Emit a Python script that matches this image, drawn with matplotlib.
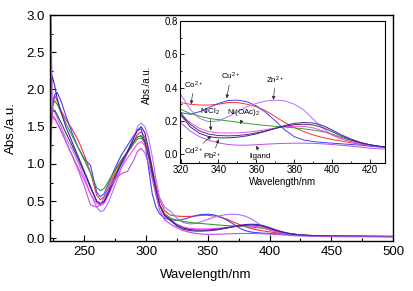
import matplotlib
matplotlib.use("Agg")
import matplotlib.pyplot as plt
from matplotlib.ticker import MultipleLocator, FormatStrFormatter

plt.rcParams['font.family'] = ['Liberation Sans', 'DejaVu Sans']
plt.rcParams['mathtext.fontset'] = 'custom'
plt.rcParams['mathtext.rm'] = 'Liberation Sans'
plt.rcParams['mathtext.it'] = 'Liberation Sans:italic'
plt.rcParams['mathtext.bf'] = 'Liberation Sans:bold'

wl = [222, 223, 224, 226, 228, 231, 235, 240, 245, 250, 255, 260, 263, 266, 270,
      275, 280, 285, 290, 293, 296, 299, 302, 305, 308, 311, 315, 320, 325, 330,
      335, 340, 345, 350, 355, 360, 365, 370, 375, 380, 385, 390, 395, 400, 405,
      410, 415, 420, 425, 430, 440, 460, 500]

co = [0.5, 1.2, 1.75, 1.92, 1.85, 1.72, 1.6, 1.47, 1.32, 1.12, 0.88, 0.58, 0.52, 0.56, 0.7,
      0.9, 1.05, 1.17, 1.3, 1.4, 1.43, 1.36, 1.18, 0.95, 0.72, 0.52, 0.37, 0.31, 0.30, 0.295,
      0.295, 0.30, 0.31, 0.31, 0.30, 0.285, 0.26, 0.225, 0.19, 0.16, 0.135, 0.115, 0.10, 0.088, 0.078,
      0.068, 0.06, 0.052, 0.045, 0.04, 0.035, 0.03, 0.025]
cu = [1.0, 1.5, 1.8, 1.93, 1.96, 1.85, 1.65, 1.42, 1.22, 1.07, 0.98, 0.62, 0.56, 0.6, 0.75,
      0.95, 1.12, 1.25, 1.38, 1.45, 1.47, 1.3, 0.95, 0.6, 0.42, 0.33, 0.27, 0.25, 0.24, 0.255,
      0.28, 0.305, 0.322, 0.325, 0.315, 0.29, 0.25, 0.20, 0.145, 0.105, 0.085, 0.076, 0.07, 0.066, 0.062,
      0.058, 0.054, 0.048, 0.043, 0.039, 0.034, 0.03, 0.026]
zn = [3.6, 3.1, 1.75, 1.7, 1.62, 1.5, 1.35, 1.2, 1.02, 0.82, 0.6, 0.42, 0.36, 0.38, 0.5,
      0.72, 0.95, 1.15, 1.35, 1.5, 1.55, 1.5, 1.35, 1.1, 0.8, 0.55, 0.42, 0.36, 0.27, 0.215,
      0.195, 0.2, 0.225, 0.255, 0.285, 0.305, 0.32, 0.325, 0.32, 0.3, 0.265, 0.21, 0.155, 0.115, 0.09,
      0.075, 0.063, 0.055, 0.047, 0.042, 0.035, 0.03, 0.026]
ni_oac = [0.8, 1.4, 1.75, 1.85, 1.8, 1.7, 1.55, 1.38, 1.22, 1.05, 0.88, 0.68, 0.64, 0.67, 0.78,
          0.93, 1.05, 1.15, 1.27, 1.33, 1.35, 1.28, 1.1, 0.85, 0.62, 0.45, 0.33, 0.27, 0.245, 0.228,
          0.215, 0.207, 0.2, 0.192, 0.185, 0.178, 0.172, 0.167, 0.163, 0.158, 0.152, 0.145, 0.135, 0.12, 0.1,
          0.082, 0.067, 0.055, 0.047, 0.042, 0.035, 0.03, 0.027]
ni_cl = [1.5, 1.6, 1.65, 1.62, 1.55, 1.45, 1.3, 1.12, 0.95, 0.78, 0.6, 0.47, 0.44, 0.47, 0.6,
         0.78, 0.95, 1.08, 1.2, 1.27, 1.3, 1.25, 1.1, 0.88, 0.65, 0.45, 0.3, 0.23, 0.19, 0.155,
         0.135, 0.128, 0.127, 0.128, 0.132, 0.138, 0.147, 0.157, 0.165, 0.168, 0.167, 0.158, 0.14, 0.115, 0.092,
         0.075, 0.063, 0.054, 0.046, 0.04, 0.034, 0.029, 0.025]
cd = [1.2, 1.55, 1.7, 1.72, 1.66, 1.56, 1.42, 1.25, 1.07, 0.88, 0.68, 0.5, 0.47, 0.5, 0.65,
      0.85, 1.02, 1.16, 1.3, 1.36, 1.38, 1.3, 1.12, 0.88, 0.64, 0.44, 0.31, 0.25, 0.18, 0.14,
      0.12, 0.112, 0.11, 0.112, 0.118, 0.128, 0.14, 0.155, 0.168, 0.177, 0.18, 0.175, 0.16, 0.135, 0.107,
      0.085, 0.068, 0.056, 0.047, 0.041, 0.034, 0.029, 0.025]
pb = [1.5, 2.0, 2.18, 2.05, 1.88, 1.7, 1.5, 1.3, 1.1, 0.9, 0.7, 0.5, 0.46, 0.49, 0.62,
      0.82, 1.0, 1.17, 1.35, 1.45, 1.5, 1.42, 1.2, 0.92, 0.66, 0.45, 0.31, 0.24, 0.165, 0.125,
      0.105, 0.098, 0.098, 0.102, 0.11, 0.122, 0.138, 0.155, 0.172, 0.185, 0.19, 0.187, 0.172, 0.145, 0.115,
      0.09, 0.07, 0.056, 0.046, 0.04, 0.033, 0.028, 0.024]
ligand = [3.4, 2.8, 1.62, 1.6, 1.55, 1.45, 1.3, 1.12, 0.92, 0.7, 0.45, 0.42, 0.45, 0.55, 0.68,
          0.8, 0.87, 0.9, 1.05, 1.17, 1.21, 1.15, 1.0, 0.8, 0.58, 0.38, 0.25, 0.19, 0.14, 0.105,
          0.083, 0.068, 0.058, 0.054, 0.054, 0.057, 0.06, 0.063, 0.065, 0.066, 0.066, 0.065, 0.062, 0.058, 0.053,
          0.048, 0.042, 0.036, 0.032, 0.029, 0.025, 0.022, 0.02]

series = [co, cu, zn, ni_oac, ni_cl, cd, pb, ligand]
colors = ['#ff3030', '#4040ff', '#b070ff', '#30a030', '#ff40ff', '#404040', '#4020b0', '#c050e0']

fig = plt.figure(figsize=(4.14, 2.91), dpi=100)
ax = fig.add_axes([50/414, 1-241/291, 343/414, 226/291])
for s, c in zip(series, colors):
    ax.plot(wl, s, color=c, lw=0.8)
ax.set_xlim(222.2, 500)
ax.set_ylim(-0.035, 3.0)
ax.xaxis.set_major_locator(MultipleLocator(50))
ax.xaxis.set_minor_locator(MultipleLocator(25))
ax.yaxis.set_major_locator(MultipleLocator(0.5))
ax.yaxis.set_minor_locator(MultipleLocator(0.25))
ax.yaxis.set_major_formatter(FormatStrFormatter('%.1f'))
ax.tick_params(which='both', direction='in', labelsize=9.5, width=0.8)
ax.tick_params(which='major', length=4)
ax.tick_params(which='minor', length=2)
for sp in ax.spines.values():
    sp.set_linewidth(1.0)
ax.set_xlabel('Wavelength/nm', fontsize=9.5)
ax.xaxis.set_label_coords(0.455, -0.125)
ax.set_ylabel('Abs./a.u.', fontsize=9.5)
ax.yaxis.set_label_coords(-0.095, 0.5)

ins = fig.add_axes([180.5/414, 1-162.5/291, 205/414, 141.5/291])
for s, c in zip(series, colors):
    ins.plot(wl, s, color=c, lw=0.7)
ins.set_xlim(320, 428)
ins.set_ylim(-0.05, 0.8)
ins.xaxis.set_major_locator(MultipleLocator(20))
ins.xaxis.set_minor_locator(MultipleLocator(10))
ins.yaxis.set_major_locator(MultipleLocator(0.2))
ins.yaxis.set_minor_locator(MultipleLocator(0.1))
ins.yaxis.set_major_formatter(FormatStrFormatter('%.1f'))
ins.tick_params(which='both', direction='in', labelsize=7, width=0.6, pad=2)
ins.tick_params(which='major', length=3)
ins.tick_params(which='minor', length=1.5)
for sp in ins.spines.values():
    sp.set_linewidth(0.8)
ins.set_xlabel('Wavelength/nm', fontsize=7, labelpad=1)
ins.set_ylabel('Abs./a.u.', fontsize=7, labelpad=1)
ins.yaxis.set_label_coords(-0.14, 0.55)

ann = dict(arrowstyle='-|>', color='#333333', lw=0.5, mutation_scale=5,
           shrinkA=0, shrinkB=0)
fs = 5.8
ins.annotate('Co$^{2+}$', xy=(325.6, 0.30), xytext=(327, 0.415), fontsize=fs,
             ha='center', va='center', arrowprops=ann)
ins.annotate('Cu$^{2+}$', xy=(344.3, 0.335), xytext=(346.5, 0.465), fontsize=fs,
             ha='center', va='center', arrowprops=ann)
ins.annotate('Zn$^{2+}$', xy=(368.9, 0.326), xytext=(370, 0.445), fontsize=fs,
             ha='center', va='center', arrowprops=ann)
ins.annotate('NiCl$_2$', xy=(336, 0.142), xytext=(335.5, 0.255), fontsize=fs,
             ha='center', va='center', arrowprops=ann)
ins.annotate('Ni(OAc)$_2$', xy=(351.6, 0.18), xytext=(353.4, 0.25), fontsize=fs,
             ha='center', va='center', arrowprops=ann)
ins.annotate('Cd$^{2+}$', xy=(336.2, 0.11), xytext=(327, 0.015), fontsize=fs,
             ha='center', va='center', arrowprops=ann)
ins.annotate('Pb$^{2+}$', xy=(340.2, 0.09), xytext=(336.7, -0.014), fontsize=fs,
             ha='center', va='center', arrowprops=ann)
ins.annotate('ligand', xy=(360, 0.052), xytext=(362, -0.014), fontsize=fs,
             ha='center', va='center', arrowprops=ann)

fig.savefig('out.png', dpi=100)
